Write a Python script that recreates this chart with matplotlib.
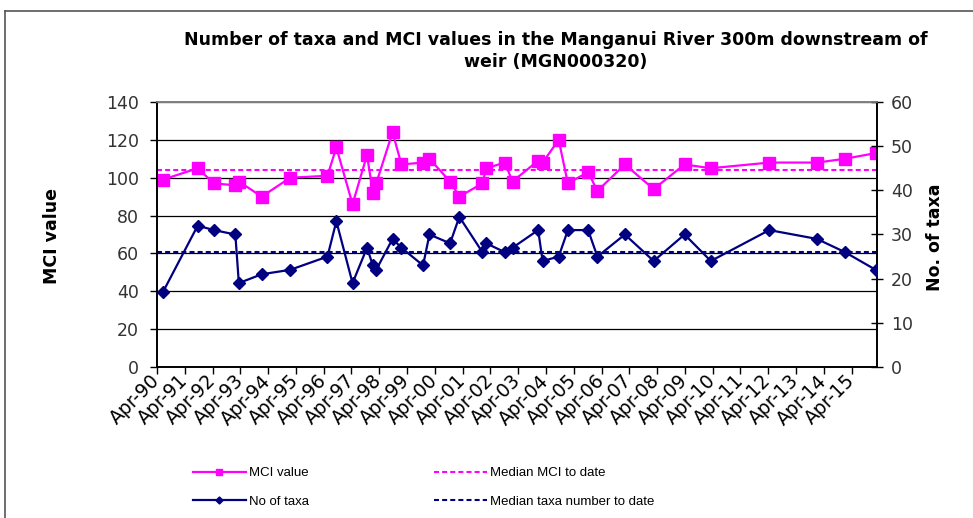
import matplotlib
matplotlib.use("Agg")
import matplotlib.pyplot as plt
import matplotlib.dates as mdates
from matplotlib.lines import Line2D
import numpy as np

# sample dates
dates = ['1990-06-19', '1991-09-18', '1992-04-18', '1993-01-25', '1993-03-12',
         '1994-01-07', '1995-01-16', '1996-05-20', '1996-09-14', '1997-04-15',
         '1997-10-22', '1998-01-07', '1998-02-20', '1998-09-23', '1999-01-18',
         '1999-10-29', '2000-01-21', '2000-10-18', '2001-02-17', '2001-12-17',
         '2002-02-06', '2002-10-07', '2003-01-17', '2003-12-20', '2004-02-17',
         '2004-09-15', '2005-01-14', '2005-10-07', '2006-02-06', '2007-02-02',
         '2008-02-16', '2009-03-28', '2010-03-08', '2012-04-15', '2014-01-01',
         '2015-01-05', '2016-02-13']
mci = [99, 105, 97, 96, 98, 90, 100, 101, 116, 86,
       112, 92, 97, 124, 107, 108, 110, 98, 90, 97,
       105, 108, 98, 109, 108, 120, 97, 103, 93, 107,
       94, 107, 105, 108, 108, 110, 113]
taxa = [17, 32, 31, 30, 19, 21, 22, 25, 33, 19,
        27, 23, 22, 29, 27, 23, 30, 28, 34, 26,
        28, 26, 27, 31, 24, 25, 31, 31, 25, 30,
        24, 30, 24, 31, 29, 26, 22]
median_mci = 104
median_taxa = 26

x = np.array(dates, dtype='datetime64[D]')
x0 = np.datetime64('1990-04-01')
x1 = np.datetime64('2016-03-01')

pink = '#ff00ff'
navy = '#000080'

fig = plt.figure(figsize=(9.73, 5.18), dpi=100)
ax = fig.add_axes([157/973, 1-367/518, 720/973, 265/518])
ax2 = ax.twinx()

# gridlines
ax.set_ylim(0, 140)
ax.set_yticks(range(0, 141, 20))
ax.yaxis.grid(True, color='black', lw=0.9)
ax.set_axisbelow(True)

ax.plot(x, mci, color=pink, lw=1.6, marker='s', ms=9, mec=pink, label='MCI value', zorder=3)
ax.plot([x0, x1], [median_mci]*2, color=pink, lw=1.5, dashes=(2.4, 1.5), label='Median MCI to date')

ax2.set_ylim(0, 60)
ax2.set_yticks(range(0, 61, 10))
ax2.plot(x, taxa, color=navy, lw=1.6, marker='D', ms=6.5, mec=navy, label='No of taxa', zorder=3)
ax2.plot([x0, x1], [median_taxa]*2, color=navy, lw=1.5, dashes=(2.4, 1.5), label='Median taxa number to date')

ax.set_xlim(x0, x1)
ax.xaxis.set_major_locator(mdates.YearLocator(1, month=4, day=1))
ax.xaxis.set_major_formatter(mdates.DateFormatter('%b-%y'))
ax.tick_params(axis='x', direction='out', length=5, width=1, labelsize=13.5, pad=3)
for t in ax.get_xticklabels():
    t.set_rotation(45)
    t.set_ha('right')
    t.set_va('center')
    t.set_rotation_mode('anchor')
ax.tick_params(axis='y', direction='out', length=5, width=1, labelsize=12.5, pad=8, labelcolor='#333333')
ax2.tick_params(axis='y', direction='inout', length=8, width=1, labelsize=12.5, pad=6, labelcolor='#333333')

for a in (ax, ax2):
    a.spines['top'].set_color('#808080')
    a.spines['top'].set_linewidth(1.2)
    for s in ('left', 'right', 'bottom'):
        a.spines[s].set_linewidth(1.2)

fig.text(556/973, 1-51/518, 'Number of taxa and MCI values in the Manganui River 300m downstream of\nweir (MGN000320)',
         ha='center', va='center', fontsize=12.5, fontweight='bold', linespacing=1.3)
fig.text(52/973, 1-236/518, 'MCI value', rotation=90, ha='center', va='center', fontsize=12.5, fontweight='bold')
fig.text(935/973, 1-237/518, 'No. of taxa', rotation=90, ha='center', va='center', fontsize=12.5, fontweight='bold')

h1, l1 = ax.get_legend_handles_labels()
h2, l2 = ax2.get_legend_handles_labels()
handles = [h1[0], h2[0], h1[1], h2[1]]
labels = [l1[0], l2[0], l1[1], l2[1]]
fig.legend(handles, labels, loc='upper left', bbox_to_anchor=(193/973, 1-467/518), ncol=2,
           frameon=False, borderpad=0, borderaxespad=0, handlelength=4.0, handletextpad=0.25,
           columnspacing=9.5, labelspacing=1.25, markerscale=0.55,
           prop={'family': 'Liberation Sans', 'size': 9.5})

# outer chart frame
fig.add_artist(Line2D([5/973, 5/973], [0, 1-11/518], transform=fig.transFigure, color='#555555', lw=1.2))
fig.add_artist(Line2D([5/973, 1], [1-11/518, 1-11/518], transform=fig.transFigure, color='#555555', lw=1.2))

fig.savefig('out.png', dpi=100)
